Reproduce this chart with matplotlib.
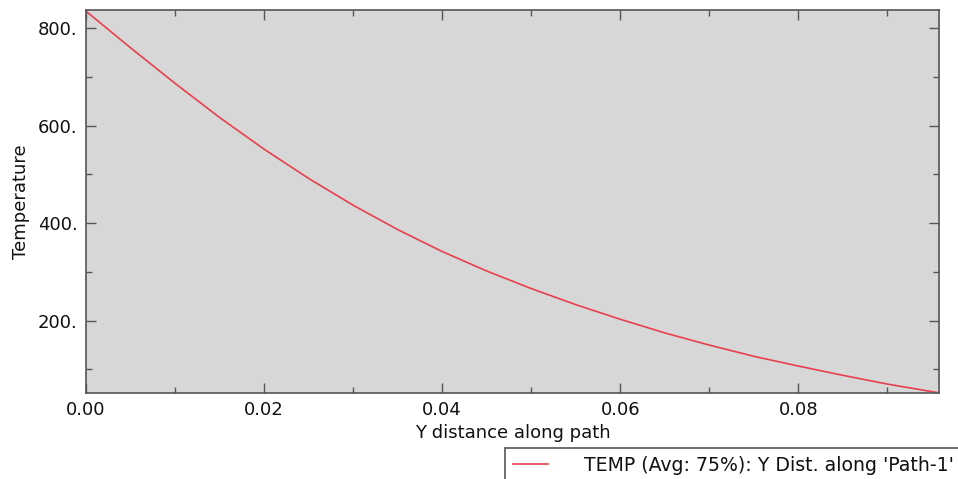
import matplotlib
matplotlib.use("Agg")
import matplotlib.pyplot as plt
from matplotlib.ticker import MultipleLocator, FuncFormatter

# Y distance along path vs temperature
distance = [0.000, 0.005, 0.010, 0.015, 0.020, 0.025, 0.030, 0.035, 0.040,
            0.045, 0.050, 0.055, 0.060, 0.065, 0.070, 0.075, 0.080, 0.085,
            0.090, 0.0958]
temperature = [835, 760, 687, 617, 552, 492, 437, 387, 342,
               302, 266, 233, 203, 175, 150, 127, 107, 88,
               70, 52]

series_label = "TEMP (Avg: 75%): Y Dist. along 'Path-1'"
x_label = "Y distance along path"
y_label = "Temperature"

fig = plt.figure(figsize=(9.58, 4.79), dpi=100)
ax = fig.add_axes([86 / 958, 1 - 393 / 479, (939 - 86) / 958, (393 - 10) / 479])

# ── Plot area ────────────────────────────────────────────────────────────
ax.set_facecolor("#d7d7d7")
for sp in ax.spines.values():
    sp.set_color("#555555")
    sp.set_linewidth(1.2)

line, = ax.plot(distance, temperature, color="#e8404c", linewidth=1.2,
                label=series_label)

ax.set_xlim(0, 0.0958)
ax.set_ylim(51.7, 837.5)

# ── Ticks ────────────────────────────────────────────────────────────────
ax.xaxis.set_major_locator(MultipleLocator(0.02))
ax.xaxis.set_minor_locator(MultipleLocator(0.01))
ax.yaxis.set_major_locator(MultipleLocator(200))
ax.yaxis.set_minor_locator(MultipleLocator(100))
ax.xaxis.set_major_formatter(FuncFormatter(lambda v, _: f"{v:.2f}"))
ax.yaxis.set_major_formatter(FuncFormatter(lambda v, _: f"{v:.0f}."))
ax.tick_params(which="both", direction="in", top=True, right=True,
               color="#555555", labelsize=13, labelcolor="#111111")
ax.tick_params(which="major", length=7, width=1)
ax.tick_params(which="minor", length=4, width=1)
ax.tick_params(axis="x", pad=6)
ax.tick_params(axis="y", pad=6)

ax.set_xlabel(x_label, fontsize=13, color="#111111", labelpad=3)
ax.set_ylabel(y_label, fontsize=13, color="#111111", labelpad=6)

# ── Legend (bottom right, running off the figure edge) ───────────────────
leg = fig.legend(handles=[line], loc="upper left",
                 bbox_to_anchor=(505 / 958, 1 - 448 / 479),
                 fontsize=13.6, frameon=True, fancybox=False, framealpha=1,
                 edgecolor="#555555", handlelength=1.9, handletextpad=1.9,
                 borderpad=0.4, borderaxespad=0)
leg.get_frame().set_linewidth(1.2)
for t in leg.get_texts():
    t.set_color("#111111")

fig.savefig("out.png", dpi=100)
